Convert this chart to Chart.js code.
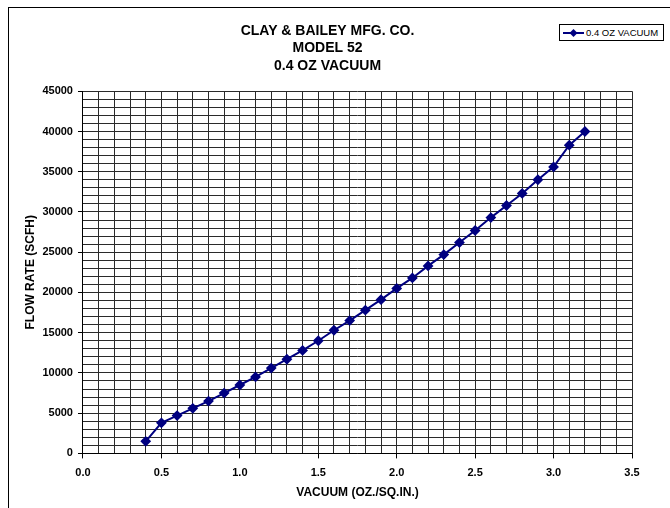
<!DOCTYPE html>
<html>
<head>
<meta charset="utf-8">
<script src="https://cdn.jsdelivr.net/npm/chart.js@4.4.1/dist/chart.umd.min.js"></script>
<style>
    html, body { margin: 0; padding: 0; background: #fff; overflow: hidden; }
    #wrap { position: relative; width: 670px; height: 508px; }
    #frame { position: absolute; left: 8px; top: 7px; width: 700px; height: 600px; border: 1px solid #000; box-sizing: border-box; }
    #legend {
        position: absolute; left: 559px; top: 24px; width: 105px; height: 17px;
        border: 1px solid #000; box-sizing: border-box; background: #fff;
        font: 9.5px "Liberation Sans", Arial, sans-serif; color: #000;
        display: flex; align-items: center; white-space: nowrap;
    }
    #legend svg { margin: 0 2px 0 3px; flex: none; }
</style>
</head>
<body>
<div id="wrap">
    <canvas id="flow-chart" width="670" height="508"></canvas>
    <div id="frame"></div>
    <div id="legend">
        <svg width="21" height="10"><line x1="0" y1="5" x2="21" y2="5" stroke="#000080" stroke-width="2"/><polygon points="10.5,1 14.5,5 10.5,9 6.5,5" fill="#000080"/></svg>
        <span id="legend-label"></span>
    </div>
</div>
<script>
    'use strict';

    var titleLines = ['CLAY & BAILEY MFG. CO.', 'MODEL 52', '0.4 OZ VACUUM'];
    var seriesName = '0.4 OZ VACUUM';
    var xTitle = 'VACUUM (OZ./SQ.IN.)';
    var yTitle = 'FLOW RATE (SCFH)';

    // vacuum (oz/sq.in.) vs flow (scfh)
    var vacuum = [0.4, 0.5, 0.6, 0.7, 0.8, 0.9, 1.0, 1.1, 1.2, 1.3, 1.4, 1.5, 1.6, 1.7, 1.8,
        1.9, 2.0, 2.1, 2.2, 2.3, 2.4, 2.5, 2.6, 2.7, 2.8, 2.9, 3.0, 3.1, 3.2];
    var flow = [1500, 3800, 4700, 5600, 6500, 7500, 8500, 9500, 10600, 11700, 12800, 14000, 15300, 16500, 17800,
        19100, 20500, 21800, 23300, 24700, 26200, 27700, 29300, 30800, 32300, 34000, 35600, 38300, 40000];

    var xTicks = { min: 0, max: 3.5, step: 0.1, labelEvery: 0.5 };
    var yTicks = { min: 0, max: 45000, step: 1000, labelEvery: 5000 };

    document.getElementById('legend-label').textContent = seriesName;

    var points = [];
    for (var i = 0; i < vacuum.length; i++) {
        points.push({ x: vacuum[i], y: flow[i] });
    }

    var font = 'Liberation Sans, Arial, sans-serif';
    var navy = '#000080';

    function isMajor(value, t) {
        var n = Math.round(value / t.step);
        var every = Math.round(t.labelEvery / t.step);
        return n % every === 0;
    }

    var ctx = document.getElementById('flow-chart').getContext('2d');
    window.flowChart = new Chart(ctx, {
        type: 'scatter',
        data: {
            datasets: [{
                label: seriesName,
                data: points,
                showLine: true,
                borderColor: navy,
                backgroundColor: navy,
                borderWidth: 2,
                pointStyle: 'rectRot',
                pointRadius: 4,
                pointHoverRadius: 4
            }]
        },
        options: {
            responsive: false,
            animation: false,
            layout: { padding: { left: 23, top: 23, right: 38, bottom: 8 } },
            plugins: {
                legend: { display: false },
                tooltip: { enabled: false },
                title: {
                    display: true,
                    text: titleLines,
                    color: '#000',
                    font: { family: font, size: 14, weight: 'bold', lineHeight: 1.22 },
                    padding: { top: 0, bottom: 17 }
                }
            },
            scales: {
                x: {
                    type: 'linear',
                    min: xTicks.min,
                    max: xTicks.max,
                    border: { color: '#000', width: 1 },
                    grid: {
                        color: '#2a2a2a',
                        lineWidth: 1,
                        tickLength: 5,
                        tickColor: function (c) { return isMajor(c.tick.value, xTicks) ? '#000' : 'rgba(0,0,0,0)'; }
                    },
                    ticks: {
                        stepSize: xTicks.step,
                        autoSkip: false,
                        maxRotation: 0,
                        padding: 8,
                        color: '#000',
                        font: { family: font, size: 11, weight: 'bold' },
                        callback: function (v) { return isMajor(v, xTicks) ? v.toFixed(1) : ''; }
                    },
                    title: {
                        display: true,
                        text: xTitle,
                        color: '#000',
                        font: { family: font, size: 12, weight: 'bold' },
                        padding: { top: -2, bottom: 0 }
                    }
                },
                y: {
                    type: 'linear',
                    min: yTicks.min,
                    max: yTicks.max,
                    border: { color: '#000', width: 1 },
                    grid: {
                        color: '#2a2a2a',
                        lineWidth: 1,
                        tickLength: 5,
                        tickColor: function (c) { return isMajor(c.tick.value, yTicks) ? '#000' : 'rgba(0,0,0,0)'; }
                    },
                    ticks: {
                        stepSize: yTicks.step,
                        autoSkip: false,
                        padding: 5,
                        color: '#000',
                        font: { family: font, size: 11, weight: 'bold' },
                        callback: function (v) { return isMajor(v, yTicks) ? String(v) : ''; }
                    },
                    title: {
                        display: true,
                        text: yTitle,
                        color: '#000',
                        font: { family: font, size: 12, weight: 'bold' },
                        padding: { top: 0, bottom: 0 }
                    }
                }
            }
        }
    });
</script>
</body>
</html>
